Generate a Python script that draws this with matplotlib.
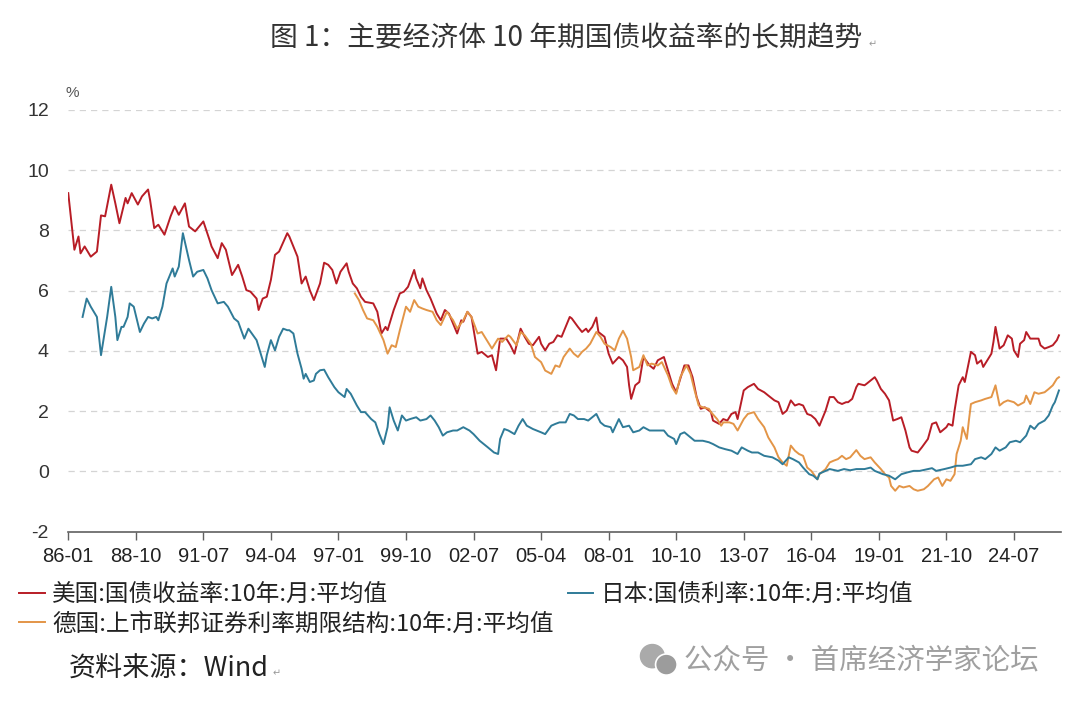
import matplotlib
matplotlib.use("Agg")
import matplotlib.pyplot as plt
from matplotlib.patches import Ellipse

plt.rcParams["font.family"] = ["Noto Sans CJK SC", "DejaVu Sans"]
plt.rcParams["axes.unicode_minus"] = False

# months counted from 1986-01
us_month = [
    0, 3, 5, 6, 8, 11, 14, 16, 18, 21, 23, 25, 28, 29, 31, 34, 36, 39, 40, 42,
    44, 47, 50, 52, 54, 57, 59, 62, 66, 69, 70, 73, 75, 77, 80, 83, 85, 87, 89, 92,
    93, 95, 97, 99, 101, 103, 107, 108, 112, 114, 116, 118, 120, 123, 125, 127, 129, 131, 133, 136,
    137, 139, 141, 143, 145, 149, 151, 153, 155, 156, 159, 162, 164, 166, 169, 170, 172, 173, 175, 177,
    180, 182, 184, 186, 188, 190, 192, 193, 195, 197, 200, 202, 205, 207, 209, 211, 214, 216, 218, 221,
    223, 225, 227, 230, 231, 233, 235, 237, 239, 241, 243, 245, 246, 249, 251, 253, 254, 256, 258, 259,
    262, 264, 266, 269, 271, 273, 274, 275, 277, 279, 281, 284, 286, 288, 291, 293, 295, 297, 299, 301,
    303, 305, 307, 309, 311, 314, 315, 318, 320, 322, 324, 326, 327, 330, 332, 335, 337, 340, 342, 345,
    347, 349, 351, 353, 355, 357, 359, 361, 363, 365, 367, 368, 370, 372, 374, 376, 378, 380, 381, 383,
    385, 386, 389, 390, 392, 394, 395, 397, 399, 401, 403, 405, 407, 409, 411, 412, 415, 417, 420, 422,
    424, 426, 429, 430, 432, 433, 435, 437, 438, 439, 441, 443, 444, 446, 447, 449, 451, 452, 453, 455,
    457, 459, 461, 462, 464, 465, 467, 468, 470, 472, 474, 475, 477, 479, 481, 483, 484,
]
us_yield = [
    9.24, 7.36, 7.80, 7.24, 7.47, 7.13, 7.30, 8.50, 8.47, 9.52, 8.90, 8.24, 9.08, 8.90, 9.24, 8.86, 9.13, 9.36, 9.00, 8.08,
    8.19, 7.86, 8.47, 8.80, 8.52, 8.90, 8.13, 7.97, 8.30, 7.69, 7.47, 7.08, 7.58, 7.36, 6.52, 6.86, 6.47, 6.02, 5.97, 5.74,
    5.36, 5.74, 5.80, 6.36, 7.19, 7.30, 7.91, 7.80, 7.13, 6.24, 6.47, 6.02, 5.69, 6.24, 6.93, 6.86, 6.69, 6.24, 6.63, 6.91,
    6.63, 6.24, 6.08, 5.80, 5.63, 5.58, 5.30, 4.58, 4.80, 4.69, 5.36, 5.91, 5.97, 6.13, 6.69, 6.41, 6.08, 6.41, 6.02, 5.74,
    5.24, 5.02, 5.36, 5.24, 4.91, 4.58, 5.02, 4.97, 5.30, 5.13, 3.91, 3.97, 3.80, 3.86, 3.36, 4.41, 4.41, 4.19, 3.91, 4.74,
    4.47, 4.24, 4.19, 4.47, 4.24, 4.02, 4.24, 4.30, 4.52, 4.47, 4.80, 5.13, 5.08, 4.80, 4.63, 4.74, 4.63, 4.80, 5.11, 4.63,
    4.47, 3.91, 3.58, 3.80, 3.69, 3.47, 2.86, 2.41, 2.86, 2.97, 3.80, 3.52, 3.41, 3.69, 3.80, 3.36, 2.91, 2.63, 3.08, 3.52,
    3.52, 3.13, 2.47, 2.08, 2.13, 1.97, 1.69, 1.58, 1.74, 1.69, 1.91, 1.97, 1.74, 2.69, 2.80, 2.91, 2.74, 2.63, 2.52, 2.36,
    2.30, 1.91, 2.02, 2.36, 2.19, 2.24, 2.19, 1.91, 1.86, 1.74, 1.52, 1.69, 2.02, 2.47, 2.47, 2.30, 2.24, 2.30, 2.30, 2.41,
    2.80, 2.91, 2.86, 2.91, 3.02, 3.13, 3.02, 2.74, 2.58, 2.36, 1.69, 1.74, 1.80, 1.36, 0.80, 0.69, 0.63, 0.80, 1.08, 1.58,
    1.63, 1.30, 1.47, 1.58, 1.52, 2.02, 2.86, 3.13, 2.97, 3.30, 3.97, 3.86, 3.58, 3.69, 3.47, 3.69, 3.91, 4.30, 4.80, 4.08,
    4.19, 4.52, 4.41, 4.02, 3.80, 4.24, 4.36, 4.63, 4.41, 4.41, 4.41, 4.19, 4.08, 4.13, 4.19, 4.36, 4.52,
]

jp_month = [
    7, 9, 11, 13, 14, 16, 19, 21, 23, 24, 26, 27, 29, 30, 32, 34, 35, 37, 39, 41,
    43, 44, 46, 48, 51, 52, 54, 56, 59, 61, 63, 66, 68, 70, 73, 76, 78, 81, 83, 86,
    88, 92, 94, 96, 97, 99, 101, 103, 105, 107, 108, 110, 112, 114, 115, 116, 118, 120, 121, 123,
    125, 127, 130, 132, 135, 136, 138, 141, 143, 145, 148, 150, 152, 154, 156, 157, 159, 161, 163, 165,
    167, 170, 172, 175, 177, 179, 181, 183, 185, 188, 190, 193, 196, 198, 201, 205, 208, 210, 211, 213,
    215, 218, 220, 222, 224, 227, 231, 233, 236, 238, 240, 243, 245, 247, 249, 252, 254, 258, 260, 262,
    265, 266, 269, 271, 274, 276, 279, 281, 284, 286, 288, 291, 293, 296, 297, 299, 301, 304, 306, 310,
    313, 315, 318, 321, 324, 327, 329, 332, 334, 337, 340, 344, 347, 349, 352, 354, 357, 359, 362, 364,
    366, 367, 370, 372, 376, 379, 382, 385, 389, 392, 394, 398, 401, 404, 407, 410, 413, 416, 420, 422,
    424, 428, 431, 434, 437, 441, 443, 446, 448, 451, 453, 455, 458, 460, 463, 465, 468, 470, 472, 474,
    477, 479, 481, 482, 484,
]
jp_yield = [
    5.13, 5.74, 5.47, 5.24, 5.13, 3.86, 5.13, 6.13, 5.13, 4.36, 4.80, 4.80, 5.13, 5.58, 5.47, 4.91, 4.63, 4.91, 5.13, 5.08,
    5.13, 5.02, 5.47, 6.24, 6.74, 6.47, 6.80, 7.91, 7.02, 6.47, 6.63, 6.69, 6.41, 6.02, 5.58, 5.63, 5.47, 5.08, 4.97, 4.41,
    4.74, 4.36, 3.91, 3.47, 3.86, 4.36, 4.02, 4.47, 4.74, 4.69, 4.69, 4.58, 3.91, 3.41, 3.08, 3.24, 2.97, 3.02, 3.24, 3.36,
    3.38, 3.13, 2.80, 2.63, 2.47, 2.74, 2.58, 2.19, 1.97, 1.97, 1.74, 1.63, 1.24, 0.91, 1.47, 2.13, 1.69, 1.36, 1.86, 1.69,
    1.74, 1.80, 1.69, 1.74, 1.86, 1.69, 1.47, 1.19, 1.30, 1.36, 1.36, 1.47, 1.36, 1.24, 1.02, 0.80, 0.63, 0.58, 1.08, 1.41,
    1.36, 1.24, 1.52, 1.74, 1.52, 1.41, 1.30, 1.24, 1.52, 1.58, 1.63, 1.63, 1.91, 1.86, 1.74, 1.74, 1.69, 1.91, 1.63, 1.52,
    1.47, 1.30, 1.74, 1.47, 1.52, 1.30, 1.36, 1.47, 1.36, 1.36, 1.36, 1.36, 1.19, 1.08, 0.91, 1.24, 1.30, 1.13, 1.02, 1.02,
    0.97, 0.91, 0.80, 0.74, 0.69, 0.58, 0.80, 0.69, 0.63, 0.63, 0.52, 0.47, 0.36, 0.24, 0.47, 0.41, 0.30, 0.13, -0.09, -0.14,
    -0.26, -0.07, 0.02, 0.08, 0.02, 0.08, 0.04, 0.08, 0.08, 0.13, 0.02, -0.09, -0.14, -0.26, -0.09, -0.03, 0.02, 0.02, 0.08, 0.11,
    0.02, 0.08, 0.13, 0.19, 0.19, 0.24, 0.41, 0.47, 0.41, 0.58, 0.80, 0.69, 0.80, 0.97, 1.02, 0.97, 1.19, 1.52, 1.41, 1.58,
    1.69, 1.86, 2.19, 2.30, 2.69,
]

de_month = [
    140, 142, 144, 146, 149, 151, 154, 156, 158, 160, 162, 165, 167, 169, 171, 173, 175, 178, 180, 182,
    185, 188, 190, 193, 195, 197, 200, 202, 205, 207, 210, 212, 215, 216, 219, 221, 223, 226, 228, 231,
    233, 236, 238, 240, 242, 245, 247, 249, 251, 253, 255, 258, 260, 262, 265, 267, 269, 271, 273, 275,
    276, 279, 281, 283, 285, 288, 290, 293, 295, 297, 299, 302, 304, 306, 308, 310, 313, 314, 317, 319,
    320, 323, 325, 327, 330, 332, 335, 337, 340, 342, 345, 347, 349, 351, 353, 355, 357, 359, 361, 363,
    366, 367, 370, 372, 374, 376, 378, 380, 382, 384, 385, 387, 389, 392, 394, 397, 399, 401, 402, 404,
    406, 408, 411, 413, 415, 418, 420, 423, 425, 427, 429, 431, 433, 434, 436, 437, 439, 440, 441, 443,
    446, 448, 451, 453, 455, 457, 459, 462, 464, 467, 468, 470, 472, 474, 477, 479, 481, 483, 484,
]
de_yield = [
    5.91, 5.69, 5.36, 5.08, 5.02, 4.80, 4.36, 3.91, 4.19, 4.13, 4.69, 5.47, 5.30, 5.69, 5.47, 5.41, 5.36, 5.30, 5.02, 4.86,
    5.30, 5.02, 4.74, 5.02, 5.30, 5.13, 4.58, 4.63, 4.30, 4.08, 4.41, 4.30, 4.52, 4.47, 4.19, 4.63, 4.52, 4.24, 3.80, 3.63,
    3.35, 3.24, 3.52, 3.47, 3.80, 4.08, 3.91, 3.80, 3.97, 4.08, 4.24, 4.63, 4.47, 4.24, 4.13, 4.02, 4.41, 4.67, 4.41, 3.80,
    3.36, 3.47, 3.86, 3.52, 3.58, 3.52, 3.63, 3.19, 2.80, 2.58, 3.13, 3.52, 3.24, 2.69, 2.19, 2.13, 2.08, 1.97, 1.74, 1.52,
    1.63, 1.63, 1.58, 1.36, 1.74, 1.91, 1.97, 1.74, 1.47, 1.13, 0.80, 0.47, 0.30, 0.19, 0.86, 0.69, 0.58, 0.52, 0.13, 0.02,
    -0.26, -0.09, 0.08, 0.30, 0.36, 0.41, 0.52, 0.41, 0.47, 0.63, 0.71, 0.52, 0.41, 0.47, 0.30, 0.08, -0.09, -0.20, -0.48, -0.64,
    -0.48, -0.53, -0.48, -0.59, -0.64, -0.59, -0.48, -0.26, -0.20, -0.48, -0.26, -0.31, -0.09, 0.58, 1.02, 1.47, 1.08, 1.69, 2.24, 2.30,
    2.36, 2.41, 2.47, 2.86, 2.19, 2.30, 2.36, 2.30, 2.19, 2.30, 2.52, 2.24, 2.63, 2.58, 2.63, 2.74, 2.86, 3.08, 3.13,
]

tick_months = list(range(0, 463, 33))
tick_labels = ["%02d-%02d" % ((86 + m // 12) % 100, m % 12 + 1) for m in tick_months]

us_label = "美国:国债收益率:10年:月:平均值"
jp_label = "日本:国债利率:10年:月:平均值"
de_label = "德国:上市联邦证券利率期限结构:10年:月:平均值"

fig = plt.figure(figsize=(10.8, 7.04), dpi=100)
ax = fig.add_axes([0.0632, 0.2447, 0.9192, 0.5991])

line_us, = ax.plot(us_month, us_yield, color="#B81D26", lw=1.4, label=us_label)
line_de, = ax.plot(de_month, de_yield, color="#E39547", lw=1.4, label=de_label)
line_jp, = ax.plot(jp_month, jp_yield, color="#2F7B98", lw=1.4, label=jp_label)

ax.set_xlim(0, 485)
ax.set_ylim(-2, 12)
ax.set_yticks(range(-2, 13, 2))
ax.set_xticks(tick_months)
ax.set_xticklabels(tick_labels, family=["Liberation Sans", "DejaVu Sans"])
for lbl in ax.get_yticklabels():
    lbl.set_family(["Liberation Sans", "DejaVu Sans"])

ax.tick_params(axis="x", direction="out", length=6, width=1, color="#606060",
               labelsize=14.5, labelcolor="#222222", pad=5)
ax.tick_params(axis="y", length=0, labelsize=14, labelcolor="#333333", pad=14)

for s in ["top", "right", "left"]:
    ax.spines[s].set_visible(False)
ax.spines["bottom"].set_color("#606060")
ax.spines["bottom"].set_linewidth(1.2)

for y in range(0, 13, 2):
    ax.axhline(y, color="#d4d4d4", lw=0.9, ls=(0, (5, 4)), zorder=0)

fig.text(0.061, 0.862, "%", fontsize=11, color="#555555",
         family=["Liberation Sans", "DejaVu Sans"])

fig.text(0.524, 0.945, "图 1：主要经济体 10 年期国债收益率的长期趋势", fontsize=20,
         color="#333333", ha="center", va="center")
fig.text(0.804, 0.937, "↵", fontsize=7, color="#999999", va="center")

# legend, laid out as in the source
fig.legend([line_us, line_jp], [us_label, jp_label], ncol=2,
           loc="upper left", bbox_to_anchor=(0.0175, 0.171), frameon=False,
           fontsize=17, handlelength=1.1, handletextpad=0.3, columnspacing=7.6,
           labelcolor="#222222", borderaxespad=0, borderpad=0)
fig.legend([line_de], [de_label], loc="upper left", bbox_to_anchor=(0.0175, 0.130),
           frameon=False, fontsize=17, handlelength=1.1, handletextpad=0.3,
           labelcolor="#222222", borderaxespad=0, borderpad=0)

fig.text(0.064, 0.050, "资料来源：Wind", fontsize=19.5, color="#222222", va="center")
fig.text(0.252, 0.043, "↵", fontsize=7, color="#999999", va="center")

# watermark
fig.patches.append(Ellipse((0.604, 0.068), 0.022, 0.033, transform=fig.transFigure,
                           color="#aaaaaa", zorder=5))
fig.patches.append(Ellipse((0.617, 0.056), 0.020, 0.030, transform=fig.transFigure,
                           color="#9c9c9c", ec="white", lw=1.2, zorder=6))
fig.text(0.633, 0.062, "公众号 · 首席经济学家论坛", fontsize=20.5, color="#a0a0a0", va="center")

fig.savefig("out.png", dpi=100)
